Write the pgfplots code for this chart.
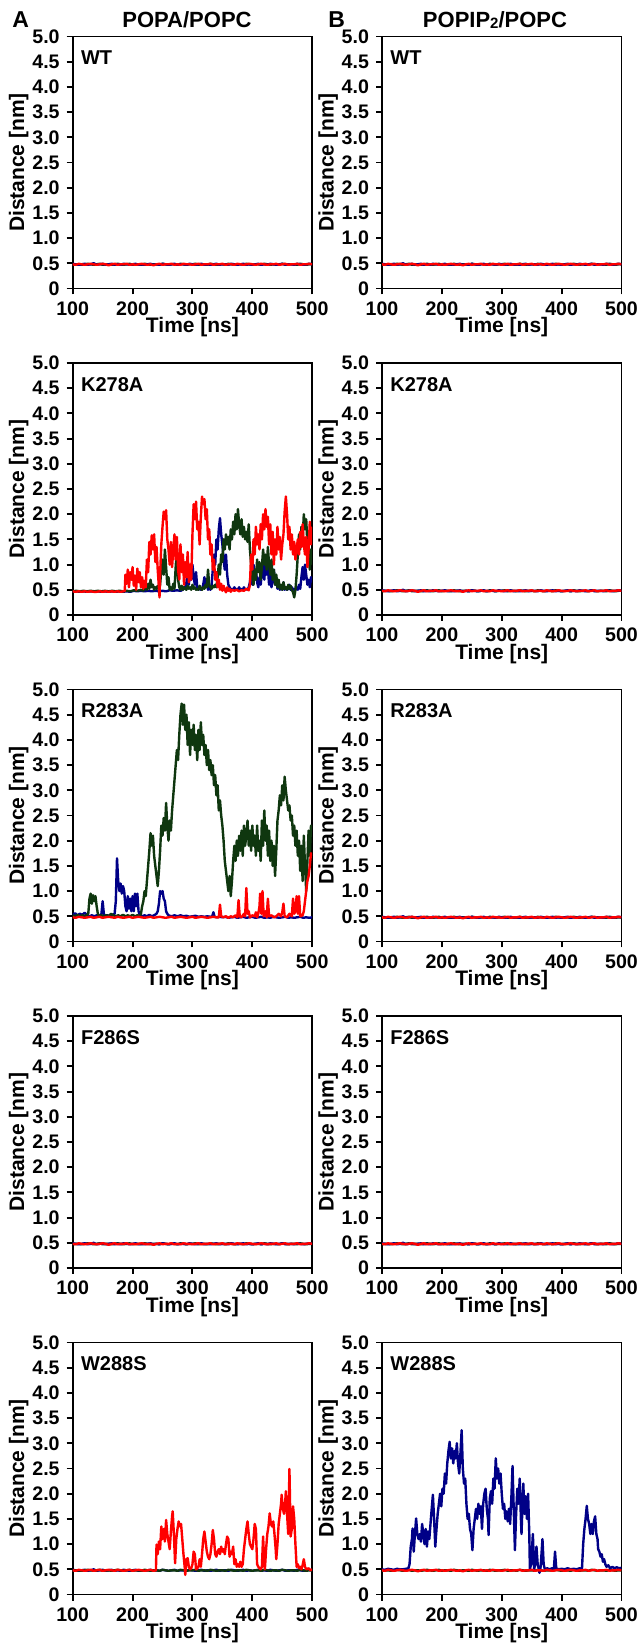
\documentclass[border=0pt]{standalone}
\usepackage{pgfplots}
\pgfplotsset{compat=1.18}
\usepackage{pgfplotstable}
\usepackage{fontspec}
\setmainfont{Liberation Sans}
\definecolor{cred}{RGB}{255,0,0}
\definecolor{cblue}{RGB}{0,0,135}
\definecolor{cgreen}{RGB}{15,55,15}

\pgfplotstableread{
t r b g
100 0.48 0.49 0.47
105 0.47 0.48 0.48
110 0.49 0.47 0.48
115 0.48 0.48 0.47
120 0.47 0.49 0.48
125 0.48 0.47 0.49
130 0.49 0.48 0.48
135 0.48 0.50 0.47
140 0.47 0.47 0.48
145 0.48 0.48 0.49
150 0.49 0.49 0.47
155 0.48 0.47 0.48
160 0.46 0.48 0.48
165 0.48 0.49 0.47
170 0.49 0.47 0.48
175 0.47 0.48 0.49
180 0.48 0.47 0.48
185 0.48 0.49 0.47
190 0.49 0.48 0.48
195 0.47 0.47 0.49
200 0.48 0.48 0.47
205 0.47 0.49 0.48
210 0.48 0.47 0.48
215 0.49 0.48 0.47
220 0.48 0.47 0.49
225 0.47 0.48 0.48
230 0.48 0.49 0.47
235 0.46 0.47 0.48
240 0.48 0.48 0.48
245 0.49 0.47 0.47
250 0.47 0.49 0.49
255 0.48 0.48 0.48
260 0.48 0.47 0.47
265 0.49 0.48 0.48
270 0.47 0.49 0.48
275 0.48 0.47 0.47
280 0.47 0.48 0.49
285 0.49 0.48 0.48
290 0.48 0.47 0.47
295 0.48 0.49 0.48
300 0.47 0.48 0.48
305 0.48 0.47 0.49
310 0.49 0.48 0.47
315 0.47 0.49 0.48
320 0.48 0.47 0.48
325 0.48 0.48 0.47
330 0.49 0.47 0.49
335 0.47 0.48 0.48
340 0.48 0.49 0.47
345 0.48 0.47 0.48
350 0.49 0.48 0.48
355 0.47 0.48 0.47
360 0.48 0.47 0.49
365 0.48 0.49 0.48
370 0.47 0.48 0.47
375 0.49 0.47 0.48
380 0.48 0.48 0.48
385 0.47 0.49 0.47
390 0.48 0.47 0.49
395 0.49 0.48 0.48
400 0.48 0.47 0.47
405 0.47 0.48 0.48
410 0.48 0.49 0.48
415 0.49 0.47 0.47
420 0.48 0.48 0.49
425 0.47 0.47 0.48
430 0.48 0.49 0.47
435 0.48 0.48 0.48
440 0.49 0.47 0.48
445 0.47 0.48 0.47
450 0.48 0.49 0.49
455 0.49 0.47 0.48
460 0.47 0.48 0.47
465 0.48 0.48 0.48
470 0.48 0.47 0.48
475 0.49 0.49 0.47
480 0.47 0.48 0.49
485 0.48 0.47 0.48
490 0.48 0.48 0.47
495 0.49 0.49 0.48
500 0.48 0.48 0.48
}\flat

\pgfplotsset{
  panel/.style={
    scale only axis, width=119.75pt, height=126pt,
    anchor=south west,
    xmin=100, xmax=500, ymin=0, ymax=5,
    xtick={100,200,300,400,500},
    xticklabels={100,200,300,400,500},
    ytick={0,0.5,1,1.5,2,2.5,3,3.5,4,4.5,5},
    yticklabels={0,0.5,1.0,1.5,2.0,2.5,3.0,3.5,4.0,4.5,5.0},
    tick align=outside, tick pos=left,
    major tick length=3pt,
    axis line style={line width=0.95pt},
    tick style={line width=0.95pt, black},
    ticklabel style={font=\fontsize{9.8}{10}\selectfont\bfseries},
    xlabel={Time [ns]}, ylabel={Distance [nm]},
    label style={font=\fontsize{10.5}{12}\selectfont\bfseries},
    xlabel style={at={(axis description cs:0.5,-0.176)}, anchor=base, inner sep=0pt},
    ylabel style={at={(axis description cs:-0.225,0.5)}, anchor=center},
    every axis plot/.append style={line width=1.2pt, mark=none, line join=round},
  },
}
\tikzset{
  plabel/.style={anchor=north west, inner sep=0pt, xshift=4pt, yshift=-7pt,
    font=\fontsize{10}{12}\selectfont\bfseries},
}

\begin{document}
\begin{tikzpicture}
\useasboundingbox (0,0) rectangle (319pt,822pt);

% titles
\node[anchor=base west, inner sep=0pt, font=\fontsize{11.5}{13}\selectfont\bfseries] at (6pt,808pt) {A};
\node[anchor=base west, inner sep=0pt, font=\fontsize{11.5}{13}\selectfont\bfseries] at (164pt,808pt) {B};
\node[anchor=base, inner sep=0pt, font=\fontsize{11}{13}\selectfont\bfseries] at (93.5pt,808pt) {POPA/POPC};
\node[anchor=base, inner sep=0pt, font=\fontsize{11}{13}\selectfont\bfseries] at (247.5pt,808pt) {POPIP\raisebox{-0.3pt}{\fontsize{7.5}{8}\selectfont 2}/POPC};

% ---------- Row 1: WT ----------
\begin{axis}[panel, at={(36.35pt,677.75pt)}]
\addplot[cgreen] table[x=t,y=g]{\flat};
\addplot[cblue] table[x=t,y=b]{\flat};
\addplot[cred] table[x=t,y=r]{\flat};
\node[plabel] at (rel axis cs:0,1) {WT};
\end{axis}
\begin{axis}[panel, at={(191pt,677.75pt)}]
\addplot[cgreen] table[x=t,y=g]{\flat};
\addplot[cblue] table[x=t,y=b]{\flat};
\addplot[cred] table[x=t,y=r]{\flat};
\node[plabel] at (rel axis cs:0,1) {WT};
\end{axis}

% ---------- Row 2: K278A ----------
\begin{axis}[panel, at={(36.35pt,514.5pt)}]
\addplot[cblue] coordinates {(100,0.46)(106,0.47)(112,0.46)(118,0.47)(124,0.46)(130,0.47)(136,0.46)(142,0.47)(148,0.46)(154,0.47)(160,0.46)(166,0.47)(172,0.46)(178,0.47)(184,0.46)(190,0.47)(196,0.46)(202,0.48)(208,0.47)(214,0.48)(220,0.47)(226,0.48)(232,0.47)(238,0.48)(244,0.47)(250,0.48)(256,0.47)(262,0.49)(268,0.48)(274,0.49)(280,0.48)
(284,0.50)(286,0.55)(288,0.52)(290,0.65)(292,0.80)(294,0.60)(296,0.95)(298,0.70)(300,1.00)(302,0.75)(304,0.60)(306,0.85)(308,0.55)(310,0.50)(312,0.55)(314,0.50)(316,0.52)(318,0.60)(320,0.75)(322,0.55)(324,0.65)(326,0.50)(328,0.55)(330,0.50)(332,0.60)(334,0.90)(336,1.20)(338,1.00)(340,1.50)(342,1.30)(344,1.70)(346,1.92)(348,1.60)(350,1.40)(352,1.10)(354,0.90)(356,1.20)(358,0.80)(360,0.60)(362,0.55)(364,0.50)(366,0.52)(368,0.50)(370,0.55)(372,0.50)(374,0.52)(376,0.50)(378,0.55)(380,0.50)(382,0.52)(384,0.50)(386,0.55)(388,0.50)(390,0.52)(392,0.50)(394,0.55)(396,0.65)(398,0.85)(400,0.60)(402,1.00)(404,0.70)(406,0.90)(408,0.65)(410,0.55)(412,0.75)(414,0.60)(416,0.85)(418,1.00)(420,0.70)(422,1.05)(424,0.80)(426,0.95)(428,0.60)(430,0.85)(432,0.55)(434,0.70)(436,0.90)(438,0.60)(440,0.75)(442,0.52)(444,0.60)(446,0.50)(448,0.55)(450,0.50)(452,0.65)(454,0.50)(456,0.55)(458,0.50)(460,0.52)(462,0.60)(464,0.50)(466,0.55)(468,0.50)(470,0.52)(472,0.50)(474,0.55)(476,0.50)(478,0.60)(480,0.52)(482,0.75)(484,0.95)(486,0.70)(488,1.00)(490,0.80)(492,0.60)(494,0.70)(496,0.55)(498,0.75)(500,0.65)};
\addplot[cgreen] coordinates {(100,0.47)(106,0.48)(112,0.47)(118,0.48)(124,0.47)(130,0.48)(136,0.47)(142,0.48)(148,0.47)(154,0.48)(160,0.47)(166,0.48)(172,0.47)(178,0.48)(184,0.47)(190,0.48)(196,0.47)(202,0.49)(208,0.48)(214,0.50)(218,0.48)
(222,0.55)(224,0.50)(226,0.62)(228,0.52)(230,0.70)(232,0.55)(234,0.60)(236,0.50)(238,0.55)(240,0.52)(242,0.58)(244,0.50)(246,0.60)(248,0.90)(250,1.10)(252,0.80)(254,1.30)(256,0.95)(258,0.60)(260,0.75)(262,0.50)(264,0.55)(266,0.50)(268,0.62)(270,0.52)(272,0.95)(274,1.30)(276,0.70)(278,0.55)(280,0.50)(282,0.58)(284,0.50)(286,0.55)(288,0.52)(290,0.50)(292,0.58)(294,0.52)(296,0.55)(298,0.50)(300,0.60)(302,0.52)(304,0.55)(306,0.50)(308,0.52)(310,0.50)(312,0.58)(314,0.52)(316,0.50)(318,0.55)(320,0.52)(322,0.60)(324,0.55)(326,0.90)(328,0.60)(330,0.55)(332,0.52)(334,0.58)(336,0.55)(338,0.60)(340,0.55)(342,0.75)(344,1.00)(346,0.80)(348,1.20)(350,1.05)(352,1.50)(354,1.30)(356,1.60)(358,1.40)(360,1.55)(362,1.30)(364,1.70)(366,1.50)(368,1.85)(370,1.60)(372,2.00)(374,1.70)(376,2.10)(378,1.80)(380,1.60)(382,1.90)(384,1.55)(386,1.75)(388,1.50)(390,1.65)(392,1.45)(394,1.80)(396,1.30)(398,1.00)(400,0.75)(402,0.60)(404,0.90)(406,0.70)(408,1.10)(410,0.85)(412,1.05)(414,0.70)(416,0.95)(418,1.30)(420,1.00)(422,1.20)(424,0.90)(426,1.35)(428,1.00)(430,0.80)(432,1.10)(434,0.70)(436,0.90)(438,0.60)(440,0.80)(442,0.55)(444,0.70)(446,0.52)(448,0.60)(450,0.50)(452,0.65)(454,0.52)(456,0.55)(458,0.50)(460,0.60)(462,0.52)(464,0.58)(466,0.50)(468,0.45)(470,0.35)(472,0.50)(474,0.80)(476,1.20)(478,1.60)(480,1.30)(482,1.75)(484,1.50)(486,2.00)(488,1.70)(490,1.90)(492,1.40)(494,1.20)(496,0.90)(498,1.30)(500,1.00)};
\addplot[cred] coordinates {(100,0.47)(105,0.46)(110,0.47)(115,0.46)(120,0.47)(125,0.46)(130,0.47)(135,0.46)(140,0.46)(145,0.47)(150,0.46)(155,0.47)(160,0.46)(165,0.47)(170,0.46)(175,0.47)(180,0.46)(185,0.47)
(187,0.48)(188,0.80)(190,0.62)(192,0.90)(194,0.55)(196,0.85)(198,0.70)(200,0.95)(202,0.58)(204,0.78)(206,0.50)(208,0.92)(210,0.65)(212,0.85)(214,0.55)(216,0.75)(218,0.52)(220,0.68)(222,0.55)(224,1.10)(226,0.85)(228,1.45)(230,1.20)(232,1.58)(234,1.30)(236,1.60)(238,1.05)(240,1.35)(242,0.90)(244,0.55)(245,0.35)(246,0.80)(248,1.40)(250,1.75)(252,2.05)(254,1.90)(256,2.08)(258,1.50)(260,1.30)(262,1.00)(264,1.45)(266,0.95)(268,1.30)(270,1.60)(272,1.10)(274,1.55)(276,0.90)(278,0.70)(280,1.40)(282,0.85)(284,1.20)(286,0.60)(288,1.05)(290,0.75)(292,1.25)(294,0.65)(296,1.00)(298,0.70)(300,1.60)(302,2.20)(304,1.90)(306,2.25)(308,1.70)(310,1.85)(312,1.40)(314,1.95)(316,2.35)(318,2.20)(320,2.30)(322,1.90)(324,2.10)(326,1.50)(328,1.70)(330,1.20)(332,1.40)(334,0.90)(336,1.10)(338,0.70)(340,0.85)(342,0.55)(344,0.70)(346,0.50)(348,0.62)(350,0.48)(352,0.58)(354,0.50)(356,0.45)(358,0.55)(360,0.48)(362,0.52)(364,0.46)(366,0.50)(370,0.48)(374,0.50)(378,0.47)(382,0.49)(386,0.48)(390,0.52)(394,0.49)(396,0.60)(398,1.20)(400,0.90)(402,1.50)(404,1.20)(406,1.75)(408,1.40)(410,1.60)(412,1.30)(414,1.80)(416,1.50)(418,2.00)(420,1.70)(422,2.10)(424,1.75)(426,1.95)(428,1.40)(430,1.80)(432,1.20)(434,1.65)(436,1.00)(438,1.50)(440,1.20)(442,1.75)(444,1.30)(446,1.55)(448,1.10)(450,1.40)(452,1.60)(454,2.05)(456,2.35)(458,2.00)(460,1.50)(462,1.75)(464,1.30)(466,1.60)(468,1.20)(470,1.45)(472,1.10)(474,1.30)(476,1.50)(478,1.20)(480,1.65)(482,1.35)(484,1.80)(486,1.40)(488,1.20)(490,1.55)(492,0.95)(494,1.30)(496,1.85)(498,1.40)(500,1.75)};
\node[plabel] at (rel axis cs:0,1) {K278A};
\end{axis}
\begin{axis}[panel, at={(191pt,514.5pt)}]
\addplot[cgreen] table[x=t,y=g]{\flat};
\addplot[cblue] table[x=t,y=b]{\flat};
\addplot[cred] table[x=t,y=r]{\flat};
\node[plabel] at (rel axis cs:0,1) {K278A};
\end{axis}

% ---------- Row 3: R283A ----------
\begin{axis}[panel, at={(36.35pt,351.25pt)}]
\addplot[cblue] coordinates {(100,0.53)(104,0.56)(108,0.52)(112,0.55)(116,0.53)(120,0.57)(124,0.52)(128,0.50)(132,0.52)(136,0.50)(140,0.52)(144,0.50)(148,0.55)(150,0.80)(152,0.55)(154,0.50)(158,0.52)(162,0.50)(166,0.52)(170,0.55)(172,0.80)(174,1.65)(176,1.20)(178,1.00)(180,1.15)(182,0.95)(184,1.10)(186,1.00)(188,0.70)(190,0.60)(192,0.90)(194,0.65)(196,0.85)(198,0.60)(200,0.90)(202,0.60)(204,0.95)(206,0.70)(208,0.95)(210,0.60)(212,0.52)(216,0.50)(220,0.52)(224,0.50)(228,0.53)(232,0.50)(236,0.52)(240,0.55)(242,0.60)(244,0.75)(246,1.00)(248,0.95)(250,1.00)(252,0.85)(254,0.80)(256,0.60)(258,0.55)(260,0.52)(265,0.50)(270,0.52)(275,0.50)(280,0.52)(285,0.50)(290,0.51)(295,0.49)(300,0.50)(305,0.51)(310,0.49)(315,0.50)(320,0.49)(325,0.50)(330,0.49)(333,0.50)(335,0.58)(337,0.49)(340,0.48)(345,0.49)(350,0.48)(355,0.49)(360,0.47)(365,0.48)(370,0.49)(375,0.47)(380,0.48)(385,0.49)(390,0.47)(395,0.48)(400,0.49)(405,0.47)(410,0.48)(415,0.49)(420,0.47)(425,0.48)(430,0.47)(435,0.49)(440,0.48)(445,0.47)(450,0.48)(455,0.49)(460,0.47)(465,0.48)(470,0.47)(475,0.48)(480,0.49)(485,0.47)(490,0.48)(495,0.47)(500,0.48)};
\addplot[cgreen] coordinates {(100,0.52)(104,0.50)(108,0.53)(112,0.50)(116,0.52)(120,0.50)(124,0.53)(126,0.55)(128,0.85)(130,0.95)(132,0.75)(134,0.92)(136,0.80)(138,0.90)(140,0.70)(142,0.55)(144,0.50)(148,0.52)(152,0.50)(156,0.52)(160,0.50)(164,0.55)(168,0.52)(172,0.50)(176,0.52)(180,0.50)(184,0.53)(188,0.50)(192,0.52)(196,0.50)(200,0.53)(204,0.50)(208,0.52)(212,0.50)(214,0.55)(216,0.70)(218,0.80)(220,1.00)(222,0.90)(224,1.20)(226,1.50)(228,1.80)(230,2.15)(232,1.90)(234,2.10)(236,1.70)(238,1.50)(240,1.30)(242,1.10)(244,1.40)(246,1.80)(248,2.30)(250,2.10)(252,2.45)(254,2.20)(256,2.75)(258,2.30)(260,2.00)(262,2.40)(264,2.20)(266,2.60)(268,2.90)(270,3.20)(272,3.50)(274,3.80)(276,3.60)(278,4.10)(280,4.50)(282,4.72)(284,4.30)(286,4.70)(288,4.20)(290,4.50)(292,3.90)(294,4.35)(296,3.70)(298,4.20)(300,3.90)(302,4.30)(304,3.80)(306,4.10)(308,3.60)(310,4.20)(312,3.80)(314,4.35)(316,3.90)(318,4.10)(320,3.70)(322,3.90)(324,3.50)(326,3.80)(328,3.40)(330,3.60)(332,3.30)(334,3.50)(336,3.10)(338,3.30)(340,2.90)(342,3.10)(344,2.60)(346,2.80)(348,2.50)(350,2.30)(352,2.00)(354,1.60)(356,1.40)(358,1.20)(360,1.00)(362,1.30)(364,0.90)(366,1.20)(368,1.60)(370,1.90)(372,1.60)(374,2.00)(376,1.70)(378,2.10)(380,1.80)(382,2.20)(384,1.70)(386,2.30)(388,1.90)(390,2.10)(392,2.40)(394,1.90)(396,2.20)(398,1.80)(400,2.30)(402,1.90)(404,2.10)(406,1.70)(408,2.30)(410,1.80)(412,2.00)(414,1.60)(416,2.40)(418,1.90)(420,2.60)(422,2.00)(424,2.30)(426,1.70)(428,2.20)(430,1.60)(432,2.00)(434,1.50)(436,1.90)(438,1.30)(440,1.80)(442,2.40)(444,2.60)(446,2.90)(448,2.70)(450,3.10)(452,2.80)(454,3.27)(456,3.00)(458,2.80)(460,2.60)(462,2.70)(464,2.40)(466,2.50)(468,2.10)(470,2.30)(472,1.90)(474,2.20)(476,1.70)(478,2.00)(480,1.40)(482,1.90)(484,1.20)(486,2.10)(488,1.50)(490,1.00)(492,1.60)(494,2.20)(496,1.70)(498,2.30)(500,2.20)};
\addplot[cred] coordinates {(100,0.48)(105,0.47)(110,0.49)(115,0.48)(120,0.47)(125,0.48)(130,0.49)(135,0.47)(140,0.48)(145,0.49)(150,0.47)(155,0.48)(160,0.49)(165,0.48)(170,0.47)(175,0.49)(180,0.48)(185,0.47)(190,0.48)(195,0.49)(200,0.47)(205,0.48)(210,0.49)(215,0.48)(220,0.47)(225,0.48)(230,0.49)(235,0.47)(240,0.48)(245,0.49)(250,0.48)(255,0.47)(260,0.48)(265,0.49)(270,0.47)(275,0.48)(280,0.49)(285,0.48)(290,0.47)(295,0.48)(300,0.49)(305,0.47)(310,0.48)(315,0.49)(320,0.48)(325,0.47)(330,0.48)(335,0.49)(340,0.48)(344,0.48)(346,0.73)(348,0.50)(352,0.48)(356,0.50)(360,0.47)(364,0.50)(368,0.48)(372,0.52)(375,0.48)(377,0.82)(379,0.50)(382,0.48)(386,0.55)(388,0.50)(390,1.06)(392,0.55)(394,0.60)(396,0.48)(400,0.52)(404,0.50)(406,0.58)(408,0.48)(410,0.55)(412,0.70)(413,0.95)(415,0.55)(417,1.00)(419,0.50)(422,0.60)(424,0.48)(426,0.85)(428,0.50)(432,0.52)(436,0.48)(440,0.50)(444,0.55)(448,0.50)(450,0.58)(452,0.75)(454,0.50)(458,0.48)(462,0.55)(466,0.50)(468,0.85)(470,0.55)(472,0.60)(474,0.90)(476,0.55)(478,0.90)(480,0.50)(484,0.52)(486,0.60)(488,0.80)(490,1.00)(492,1.20)(494,1.30)(496,1.50)(498,1.75)(500,1.70)};
\node[plabel] at (rel axis cs:0,1) {R283A};
\end{axis}
\begin{axis}[panel, at={(191pt,351.25pt)}]
\addplot[cgreen] table[x=t,y=g]{\flat};
\addplot[cblue] table[x=t,y=b]{\flat};
\addplot[cred] table[x=t,y=r]{\flat};
\node[plabel] at (rel axis cs:0,1) {R283A};
\end{axis}

% ---------- Row 4: F286S ----------
\begin{axis}[panel, at={(36.35pt,188pt)}]
\addplot[cgreen] table[x=t,y=g]{\flat};
\addplot[cblue] table[x=t,y=b]{\flat};
\addplot[cred] table[x=t,y=r]{\flat};
\node[plabel] at (rel axis cs:0,1) {F286S};
\end{axis}
\begin{axis}[panel, at={(191pt,188pt)}]
\addplot[cgreen] table[x=t,y=g]{\flat};
\addplot[cblue] table[x=t,y=b]{\flat};
\addplot[cred] table[x=t,y=r]{\flat};
\node[plabel] at (rel axis cs:0,1) {F286S};
\end{axis}

% ---------- Row 5: W288S ----------
\begin{axis}[panel, at={(36.35pt,24.75pt)}]
\addplot[cblue] table[x=t,y=b]{\flat};
\addplot[cgreen] table[x=t,y=g]{\flat};
\addplot[cred] coordinates {(100,0.48)(105,0.47)(110,0.49)(115,0.48)(120,0.47)(125,0.48)(130,0.49)(135,0.47)(140,0.48)(145,0.49)(150,0.47)(155,0.48)(160,0.49)(165,0.48)(170,0.47)(175,0.49)(180,0.48)(185,0.47)(190,0.48)(195,0.49)(200,0.47)(205,0.48)(210,0.49)(215,0.48)(220,0.47)(225,0.48)(230,0.49)(235,0.47)(239,0.48)(240,0.99)(242,0.80)(244,1.05)(246,0.90)(248,1.35)(250,1.10)(252,1.30)(254,1.05)(256,1.48)(258,1.20)(260,1.05)(262,0.90)(264,1.25)(266,1.55)(267,1.65)(269,1.20)(271,0.62)(273,1.10)(275,1.30)(277,1.45)(279,1.35)(281,1.40)(283,1.10)(285,0.80)(287,0.55)(288,0.39)(290,0.70)(292,0.72)(294,0.55)(296,0.50)(298,0.52)(300,0.60)(302,0.85)(304,0.80)(306,0.50)(308,0.52)(310,0.55)(312,0.70)(314,0.55)(316,0.80)(318,1.10)(320,1.25)(322,1.05)(324,0.85)(326,0.75)(328,0.70)(330,0.80)(332,1.00)(334,1.28)(336,1.10)(338,0.80)(340,0.75)(342,0.85)(344,0.90)(346,0.80)(348,0.95)(350,0.85)(352,0.90)(354,0.80)(356,1.00)(358,1.15)(360,1.10)(362,0.75)(364,0.85)(366,0.80)(368,0.95)(370,0.60)(372,0.70)(374,0.55)(376,0.60)(378,0.55)(380,0.65)(382,0.55)(384,0.60)(386,0.90)(388,1.10)(390,1.30)(392,1.45)(394,1.20)(396,1.00)(398,0.95)(400,0.90)(402,1.10)(404,1.40)(406,1.30)(408,0.60)(410,0.55)(412,0.52)(414,0.50)(416,0.55)(418,1.15)(420,0.60)(421,0.50)(423,0.90)(425,1.20)(427,1.35)(429,1.61)(431,1.40)(433,1.35)(435,1.45)(437,1.20)(439,0.90)(440,0.70)(442,1.00)(444,1.40)(446,1.60)(448,1.80)(449,1.98)(451,1.70)(453,1.60)(455,1.85)(456,2.05)(458,1.60)(460,1.20)(462,2.49)(464,1.15)(466,1.30)(468,1.75)(470,1.50)(472,1.00)(474,0.55)(476,0.60)(478,0.52)(480,0.55)(482,0.50)(484,0.58)(486,0.70)(488,0.55)(490,0.50)(494,0.52)(497,0.48)(500,0.50)};
\node[plabel] at (rel axis cs:0,1) {W288S};
\end{axis}
\begin{axis}[panel, at={(191pt,24.75pt)}]
\addplot[cgreen] table[x=t,y=g]{\flat};
\addplot[cblue] coordinates {(100,0.50)(105,0.49)(110,0.51)(115,0.50)(120,0.49)(125,0.51)(130,0.50)(135,0.50)(140,0.51)(144,0.52)(146,0.60)(148,0.95)(150,1.10)(151,1.31)(153,0.85)(155,1.20)(157,1.51)(159,1.20)(161,1.10)(163,1.20)(165,1.05)(167,1.40)(169,1.20)(171,1.00)(173,1.30)(175,0.95)(177,1.25)(179,1.10)(181,1.40)(183,1.70)(185,1.98)(187,1.50)(189,0.95)(191,1.30)(193,1.60)(195,1.80)(197,2.00)(199,1.75)(201,2.10)(203,2.00)(205,2.40)(207,2.20)(209,2.60)(211,2.85)(213,3.03)(215,2.70)(217,2.90)(219,2.60)(221,2.85)(223,2.70)(225,3.00)(227,2.60)(229,2.40)(231,2.80)(233,3.26)(235,2.50)(237,2.20)(239,2.30)(241,1.80)(243,1.50)(245,1.60)(247,1.30)(249,1.20)(251,0.88)(253,1.30)(255,1.50)(257,1.70)(259,1.50)(261,1.80)(263,1.60)(265,1.75)(267,1.30)(269,1.80)(271,2.00)(273,2.10)(275,1.70)(277,1.50)(278,1.18)(280,1.90)(282,2.05)(284,1.80)(286,2.30)(288,2.10)(290,2.70)(292,2.30)(294,2.50)(296,2.20)(298,2.40)(300,2.00)(302,1.70)(304,1.80)(306,1.50)(308,1.65)(310,1.45)(312,1.70)(314,1.40)(316,1.90)(318,2.55)(320,1.70)(322,0.88)(324,1.60)(326,2.10)(328,1.80)(330,2.30)(332,1.50)(333,1.20)(335,1.90)(336,2.20)(338,1.60)(340,1.95)(342,1.50)(344,2.00)(346,1.20)(347,0.50)(349,0.60)(352,1.20)(354,0.50)(356,0.60)(358,0.95)(360,0.60)(362,0.50)(363,0.43)(365,0.55)(368,1.10)(370,0.60)(372,0.50)(376,0.52)(380,0.50)(384,0.52)(387,0.50)(389,0.85)(391,0.52)(395,0.50)(400,0.51)(405,0.50)(410,0.52)(415,0.50)(420,0.51)(425,0.50)(430,0.52)(434,0.51)(436,1.00)(438,1.30)(440,1.50)(442,1.76)(444,1.50)(446,1.40)(448,1.20)(450,1.40)(452,1.20)(454,1.45)(456,1.55)(458,1.20)(460,1.10)(461,0.90)(463,0.85)(465,0.75)(467,0.80)(469,0.65)(471,0.70)(473,0.60)(475,0.55)(478,0.58)(481,0.52)(485,0.55)(488,0.52)(492,0.54)(496,0.52)(500,0.53)};
\addplot[cred] table[x=t,y=r]{\flat};
\node[plabel] at (rel axis cs:0,1) {W288S};
\end{axis}
\end{tikzpicture}
\end{document}
